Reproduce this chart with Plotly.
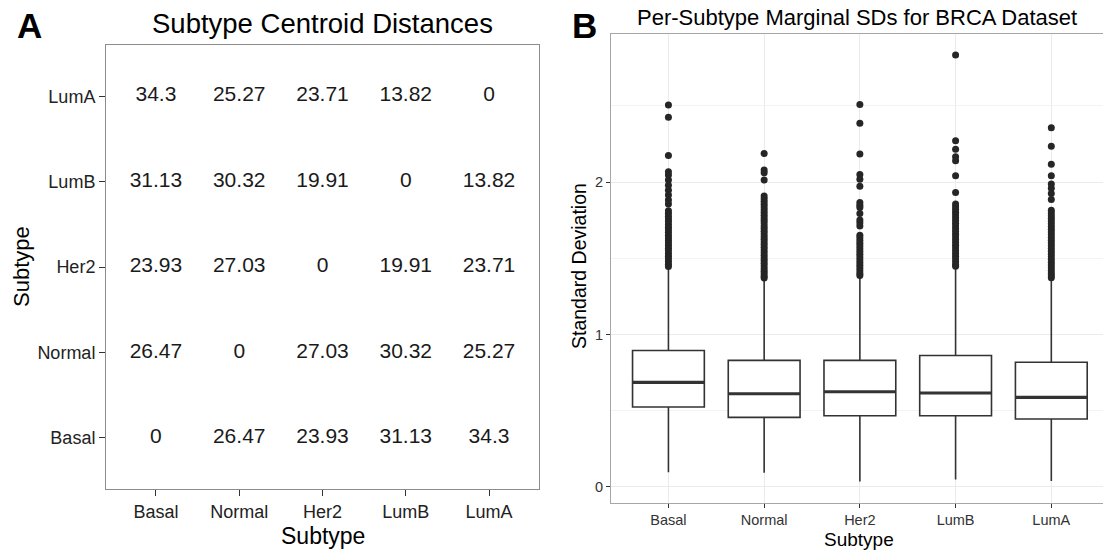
import plotly.graph_objects as go

# ---------------- data ----------------
subtypes = ["Basal", "Normal", "Her2", "LumB", "LumA"]

# Panel A: centroid distance matrix (rows = y subtype, columns = x subtype)
dist_basal = [0, 26.47, 23.93, 31.13, 34.3]
dist_normal = [26.47, 0, 27.03, 30.32, 25.27]
dist_her2 = [23.93, 27.03, 0, 19.91, 23.71]
dist_lumb = [31.13, 30.32, 19.91, 0, 13.82]
dist_luma = [34.3, 25.27, 23.71, 13.82, 0]
centroid_dist = [dist_basal, dist_normal, dist_her2, dist_lumb, dist_luma]

# Panel B: box statistics of per-subtype marginal SDs
sd_q1 = [0.524, 0.456, 0.467, 0.467, 0.445]
sd_median = [0.686, 0.611, 0.624, 0.616, 0.587]
sd_q3 = [0.895, 0.830, 0.830, 0.862, 0.818]
sd_lower = [0.096, 0.092, 0.035, 0.048, 0.038]
sd_upper = [1.444, 1.368, 1.383, 1.444, 1.368]

out_basal = [2.506, 2.425, 2.175, 2.068, 2.046, 2.013, 1.980, 1.947, 1.915, 1.882,
             1.856, 1.812, 1.795, 1.776, 1.758, 1.741, 1.722, 1.704, 1.688, 1.671,
             1.652, 1.633, 1.617, 1.600, 1.584, 1.566, 1.549, 1.531, 1.514, 1.497,
             1.479, 1.461, 1.446]
out_normal = [2.188, 2.079, 2.061, 2.013, 1.908, 1.890, 1.872, 1.855, 1.836, 1.818,
              1.801, 1.783, 1.765, 1.748, 1.731, 1.712, 1.695, 1.677, 1.660, 1.642,
              1.625, 1.607, 1.590, 1.572, 1.555, 1.537, 1.520, 1.502, 1.485, 1.467,
              1.450, 1.432, 1.415, 1.398, 1.382, 1.370]
out_her2 = [2.510, 2.386, 2.184, 2.050, 2.018, 1.972, 1.866, 1.848, 1.834, 1.794,
            1.752, 1.733, 1.712, 1.652, 1.634, 1.617, 1.599, 1.581, 1.563, 1.545,
            1.527, 1.509, 1.491, 1.473, 1.455, 1.437, 1.419, 1.401, 1.387]
out_lumb = [2.834, 2.271, 2.215, 2.166, 2.140, 2.041, 1.932, 1.856, 1.838, 1.820,
            1.802, 1.784, 1.766, 1.748, 1.730, 1.712, 1.694, 1.676, 1.658, 1.640,
            1.622, 1.604, 1.586, 1.568, 1.550, 1.532, 1.514, 1.496, 1.478, 1.460,
            1.447]
out_luma = [2.357, 2.236, 2.118, 2.041, 1.987, 1.959, 1.926, 1.886, 1.816, 1.798,
            1.780, 1.762, 1.744, 1.726, 1.708, 1.690, 1.672, 1.654, 1.636, 1.618,
            1.600, 1.582, 1.564, 1.546, 1.528, 1.510, 1.492, 1.474, 1.456, 1.438,
            1.420, 1.402, 1.385, 1.372]
sd_outliers = [out_basal, out_normal, out_her2, out_lumb, out_luma]

# ---------------- figure ----------------
W, H = 1103, 550
FONT = "Liberation Sans, Arial, Helvetica, sans-serif"
BOX_W = 0.75


def px(x):
    return x / W


def py(y):
    return 1 - y / H


def fmt(v):
    return f"{v:g}"


fig = go.Figure()

# Panel A: text matrix
for i, row in enumerate(centroid_dist):
    fig.add_trace(go.Scatter(
        x=list(range(len(subtypes))), y=[i] * len(row),
        text=[fmt(v) for v in row], mode="text",
        textfont=dict(family=FONT, size=21, color="#1a1a1a"),
        xaxis="x", yaxis="y", showlegend=False, hoverinfo="skip",
    ))

# Panel B: boxplots
for i in range(len(subtypes)):
    fig.add_trace(go.Box(
        x=[i], q1=[sd_q1[i]], median=[sd_median[i]], q3=[sd_q3[i]],
        lowerfence=[sd_lower[i]], upperfence=[sd_upper[i]],
        fillcolor="white", line=dict(color="#333333", width=1.6),
        width=BOX_W, whiskerwidth=0, boxpoints=False,
        xaxis="x2", yaxis="y2", showlegend=False,
    ))
    fig.add_trace(go.Scatter(
        x=[i - BOX_W / 2, i + BOX_W / 2], y=[sd_median[i], sd_median[i]],
        mode="lines", line=dict(color="#333333", width=3.2),
        xaxis="x2", yaxis="y2", showlegend=False, hoverinfo="skip",
    ))
    fig.add_trace(go.Scatter(
        x=[i] * len(sd_outliers[i]), y=sd_outliers[i], mode="markers",
        marker=dict(color="#262626", size=7),
        xaxis="x2", yaxis="y2", showlegend=False,
    ))

axis_common = dict(zeroline=False, fixedrange=True)

fig.update_layout(
    width=W, height=H,
    margin=dict(l=0, r=0, t=0, b=0),
    paper_bgcolor="white", plot_bgcolor="white",
    font=dict(family=FONT),
    xaxis=dict(
        domain=[px(106), px(539)], range=[-0.6, 4.6], anchor="y",
        tickmode="array", tickvals=list(range(5)), ticktext=subtypes,
        showgrid=False, showline=True, mirror=True, linecolor="#8c8c8c", linewidth=1,
        ticks="outside", ticklen=6, tickcolor="#333333", tickwidth=1,
        tickfont=dict(size=18, color="#222222"), **axis_common,
    ),
    yaxis=dict(
        domain=[py(489), py(45)], range=[-0.6, 4.6], anchor="x",
        tickmode="array", tickvals=list(range(5)), ticktext=subtypes,
        showgrid=False, showline=True, mirror=True, linecolor="#8c8c8c", linewidth=1,
        ticks="outside", ticklen=6, tickcolor="#333333", tickwidth=1,
        tickfont=dict(size=18, color="#222222"), **axis_common,
    ),
    xaxis2=dict(
        domain=[px(611), 1.0], range=[-0.6, 4.54], anchor="y2",
        tickmode="array", tickvals=list(range(5)), ticktext=subtypes,
        showgrid=True, gridcolor="#ebebeb", gridwidth=1,
        showline=True, mirror=True, linecolor="#a6a6a6", linewidth=1,
        ticks="outside", ticklen=4, tickcolor="#333333", tickwidth=1,
        tickfont=dict(size=14.5, color="#333333"), **axis_common,
    ),
    yaxis2=dict(
        domain=[py(503), py(34)], range=[-0.106, 2.972], anchor="x2",
        tickmode="array", tickvals=[0, 1, 2], ticktext=["0", "1", "2"],
        showgrid=True, gridcolor="#ebebeb", gridwidth=1,
        minor=dict(tickvals=[0.5, 1.5, 2.5], showgrid=True, gridcolor="#f3f3f3", gridwidth=1),
        showline=True, mirror=True, linecolor="#a6a6a6", linewidth=1,
        ticks="outside", ticklen=4, tickcolor="#333333", tickwidth=1,
        tickfont=dict(size=14.5, color="#333333"), **axis_common,
    ),
)


def label(text, x, y, size, color="#000000", angle=0, bold=False):
    fig.add_annotation(
        text=f"<b>{text}</b>" if bold else text,
        x=px(x), y=py(y), xref="paper", yref="paper",
        xanchor="center", yanchor="middle", showarrow=False, textangle=angle,
        font=dict(family=FONT, size=size, color=color),
    )


label("A", 29, 26, 35, bold=True)
label("B", 584, 26, 35, bold=True)
label("Subtype Centroid Distances", 322.5, 23, 27.5)
label("Per-Subtype Marginal SDs for BRCA Dataset", 857, 18, 22)
label("Subtype", 322.5, 536, 23)
label("Subtype", 21, 267, 22, angle=-90)
label("Subtype", 859, 539, 19)
label("Standard Deviation", 579, 266, 19.5, angle=-90)

fig.write_html("out.html", post_script="document.body.style.margin='0px';",
               config={"displayModeBar": False})
